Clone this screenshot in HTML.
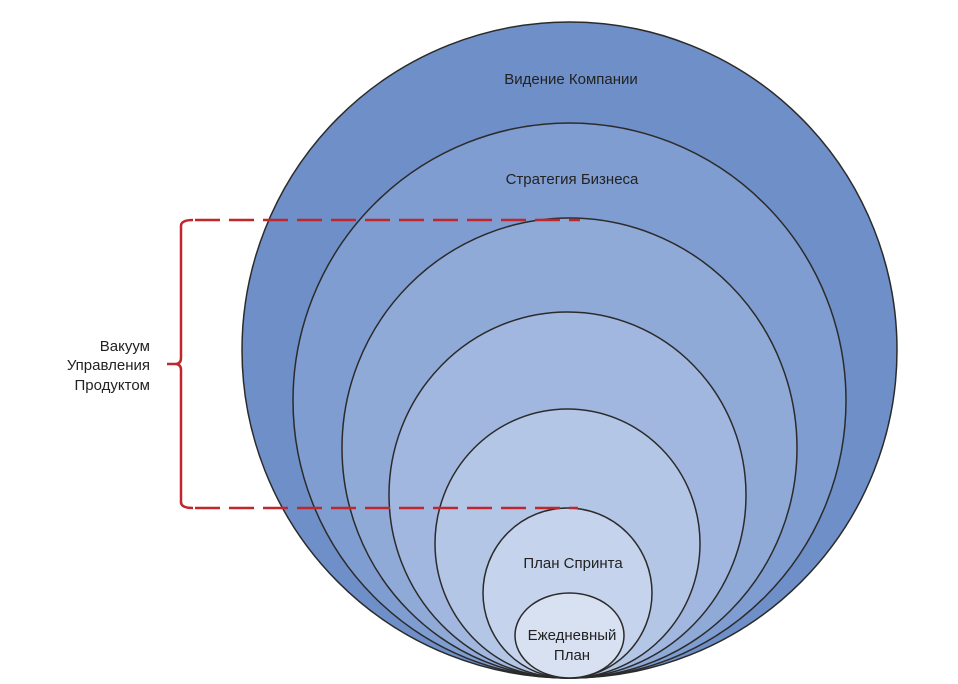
<!DOCTYPE html>
<html><head><meta charset="utf-8"><style>body{margin:0;background:#fff}svg{display:block}text{font-family:"Liberation Sans",sans-serif;font-size:15px;fill:#222}</style></head><body>
<svg width="958" height="684" viewBox="0 0 958 684">
<g stroke="#2b2b2b" stroke-width="1.5">
<ellipse cx="569.5" cy="350" rx="327.5" ry="328" fill="#6f8fc8"/>
<ellipse cx="569.5" cy="400.5" rx="276.5" ry="277.5" fill="#7f9dd1"/>
<ellipse cx="569.5" cy="448" rx="227.5" ry="230" fill="#90aad8"/>
<ellipse cx="567.5" cy="495" rx="178.5" ry="183" fill="#a2b7df"/>
<ellipse cx="567.5" cy="543.5" rx="132.5" ry="134.5" fill="#b4c6e6"/>
<ellipse cx="567.5" cy="593" rx="84.5" ry="85" fill="#c6d3ec"/>
<ellipse cx="569.5" cy="635.5" rx="54.5" ry="42.5" fill="#d8e1f2"/>
</g>
<text x="571" y="84" text-anchor="middle">Видение Компании</text>
<text x="572" y="184" text-anchor="middle">Стратегия Бизнеса</text>
<text x="573" y="568" text-anchor="middle">План Спринта</text>
<text x="572" y="640" text-anchor="middle">Ежедневный</text>
<text x="572" y="660" text-anchor="middle">План</text>
<g stroke="#c0272d" stroke-width="2.5" fill="none">
<path d="M195 220 H580" stroke-dasharray="25 9"/>
<path d="M195 508 H578" stroke-dasharray="25 9"/>
<path d="M193 220 Q181 220 181 226 V358 Q181 364 175 364 H167 M175 364 Q181 364 181 370 V502 Q181 508 193 508"/>
</g>
<text x="150" y="351" text-anchor="end">Вакуум</text>
<text x="150" y="370" text-anchor="end">Управления</text>
<text x="150" y="390" text-anchor="end">Продуктом</text>
</svg>
</body></html>
